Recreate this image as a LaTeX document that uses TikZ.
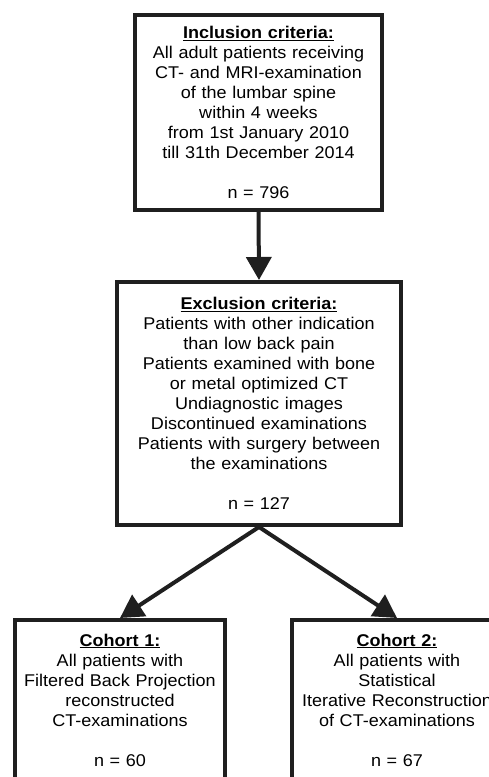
\documentclass[tikz,border=0pt]{standalone}
\usepackage{fontspec}
\setmainfont{Liberation Sans}[FakeStretch=1.06]
\usetikzlibrary{arrows.meta}

\begin{document}
\begin{tikzpicture}[x=1pt, y=-1pt, arr/.style={line width=4pt, draw=black!88, -{Triangle[length=23pt, width=25pt]}}]
\tikzstyle{box}=[draw=black!88, line width=4pt, inner sep=0pt, align=center, font=\fontsize{17}{20}\selectfont]
\tikzstyle{every node} = [box];
\useasboundingbox (0,0) rectangle (489,777);
\clip (0,0) rectangle (489,777);
\node[minimum width=247pt, minimum height=195pt, text width=240pt] (incl) at (258.5,112.5) {\underline{\textbf{Inclusion criteria:}}\\All adult patients receiving\\CT- and MRI-examination\\of the lumbar spine\\within 4 weeks\\from 1st January 2010\\till 31th December 2014\\[20pt]n = 796};
\node[minimum width=284pt, minimum height=243pt, text width=275pt] (excl) at (259,403.5) {\underline{\textbf{Exclusion criteria:}}\\Patients with other indication\\than low back pain\\Patients examined with bone\\or metal optimized CT\\Undiagnostic images\\Discontinued examinations\\Patients with surgery between\\the examinations\\[20pt]n = 127};
\node[minimum width=210pt, minimum height=160pt, text width=200pt] (coh1) at (120,700) {\underline{\textbf{Cohort 1:}}\\All patients with\\Filtered Back Projection\\reconstructed\\CT-examinations\\[20pt]n = 60};
\node[minimum width=210pt, minimum height=160pt, text width=200pt] (coh2) at (397,700) {\underline{\textbf{Cohort 2:}}\\All patients with\\Statistical\\Iterative Reconstruction\\of CT-examinations\\[20pt]n = 67};
\foreach \i/\j in {incl/excl,excl/coh1,excl/coh2}{\draw[arr] (\i.south) -- (\j.north);}
\end{tikzpicture}
\end{document}
